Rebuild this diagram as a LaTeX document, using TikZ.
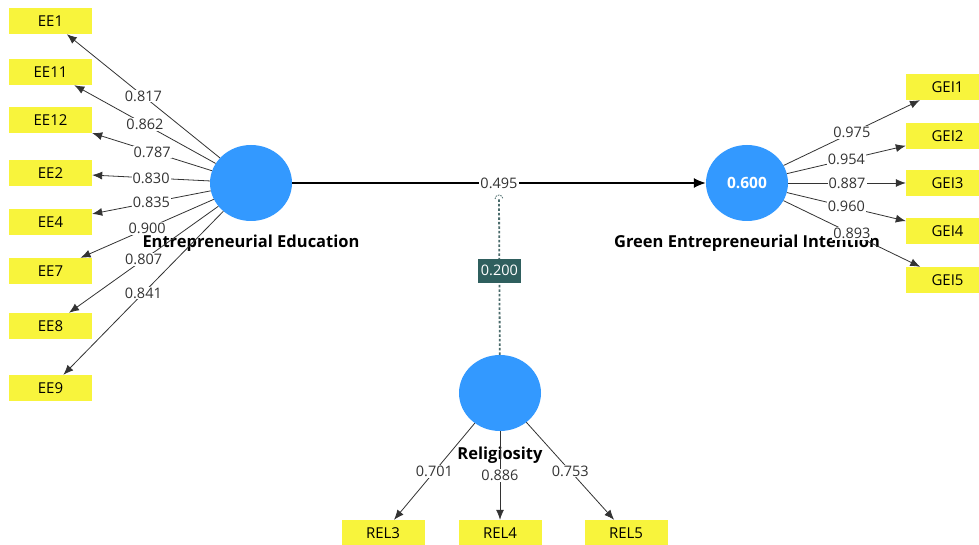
\documentclass[tikz,border=0pt]{standalone}
\usepackage{fontspec}
\setmainfont{Open Sans}
\usetikzlibrary{arrows.meta,positioning,shapes.geometric}
\definecolor{plsblue}{HTML}{3399FF}
\definecolor{plsyellow}{HTML}{F8F43C}
\definecolor{plsteal}{HTML}{2F5F5E}
\definecolor{plsdot}{HTML}{4A6B6B}
\definecolor{plsline}{HTML}{333333}
\tikzset{
  latent/.style={ellipse,fill=plsblue,minimum width=82pt,minimum height=76pt,inner sep=0pt},
  indicator/.style={rectangle,fill=plsyellow,minimum width=83pt,minimum height=26pt,inner sep=0pt,font=\fontsize{15}{17}\selectfont},
  loading/.style={fill=white,inner sep=1pt,font=\fontsize{14.5}{16}\selectfont,text=plsline},
  lvname/.style={font=\bfseries\fontsize{16.5}{18}\selectfont},
  outer/.style={-{Latex[length=10pt,width=8pt]},draw=plsline,line width=0.8pt}
}
\begin{document}
\begin{tikzpicture}[x=1pt,y=-1pt]
  \useasboundingbox (0,0) rectangle (979,545);
  \clip (0,0) rectangle (979,545);
  \fill[white] (0,0) rectangle (979,545);
  \node[latent] (ee) at (251,183) {};
  \node[latent,text=white,font=\bfseries\fontsize{15.5}{17}\selectfont] (gei) at (747,183) {0.600};
  \node[latent] (rel) at (500,393) {};
  \foreach \n/\t/\yy in {ee1/EE1/21,ee11/EE11/72,ee12/EE12/120,ee2/EE2/173,ee4/EE4/222,ee7/EE7/271,ee8/EE8/326,ee9/EE9/388}{
    \node[indicator] (\n) at (50.5,\yy) {\t};
  }
  \foreach \n/\t/\yy in {gei1/GEI1/87,gei2/GEI2/136,gei3/GEI3/183,gei4/GEI4/231,gei5/GEI5/280}{
    \node[indicator] (\n) at (947.5,\yy) {\t};
  }
  \foreach \n/\t/\xx in {rel3/REL3/383,rel4/REL4/500,rel5/REL5/626}{
    \node[indicator] (\n) at (\xx,533) {\t};
  }
  \node[lvname] (eename) at (251,243) {Entrepreneurial Education};
  \node[lvname] (geiname) at (747,243) {Green Entrepreneurial Intention};
  \node[lvname] (relname) at (500,455) {Religiosity};
  \foreach \n/\v in {ee1/0.817,ee11/0.862,ee12/0.787,ee2/0.830,ee4/0.835,ee7/0.900,ee8/0.807,ee9/0.841}{
    \draw[outer] (ee) -- (\n) node[loading,midway] {\v};
  }
  \foreach \n/\v in {gei1/0.975,gei2/0.954,gei3/0.887,gei4/0.960,gei5/0.893}{
    \draw[outer] (gei) -- (\n) node[loading,midway] {\v};
  }
  \foreach \n/\v in {rel3/0.701,rel4/0.886,rel5/0.753}{
    \draw[outer] (rel) -- (\n) node[loading,midway] {\v};
  }
  \draw[-{Latex[length=12pt,width=10pt]},draw=black,line width=1.4pt] (ee) -- (gei) node[loading,midway] (path1) {0.495};
  \coordinate (modend) at (499,199);
  \draw[plsdot,line width=1.8pt,dash pattern=on 2.5pt off 2pt] (rel) -- (modend)
    node[pos=0.54,fill=plsteal,text=white,inner sep=2pt,minimum width=43pt,minimum height=24pt,font=\fontsize{14.5}{16}\selectfont] (modlabel) {0.200};
  \draw[plsdot,line width=0.8pt,dash pattern=on 1.5pt off 1pt] ([xshift=-4pt]modend) arc[start angle=180,end angle=0,radius=4pt];
\end{tikzpicture}
\end{document}
